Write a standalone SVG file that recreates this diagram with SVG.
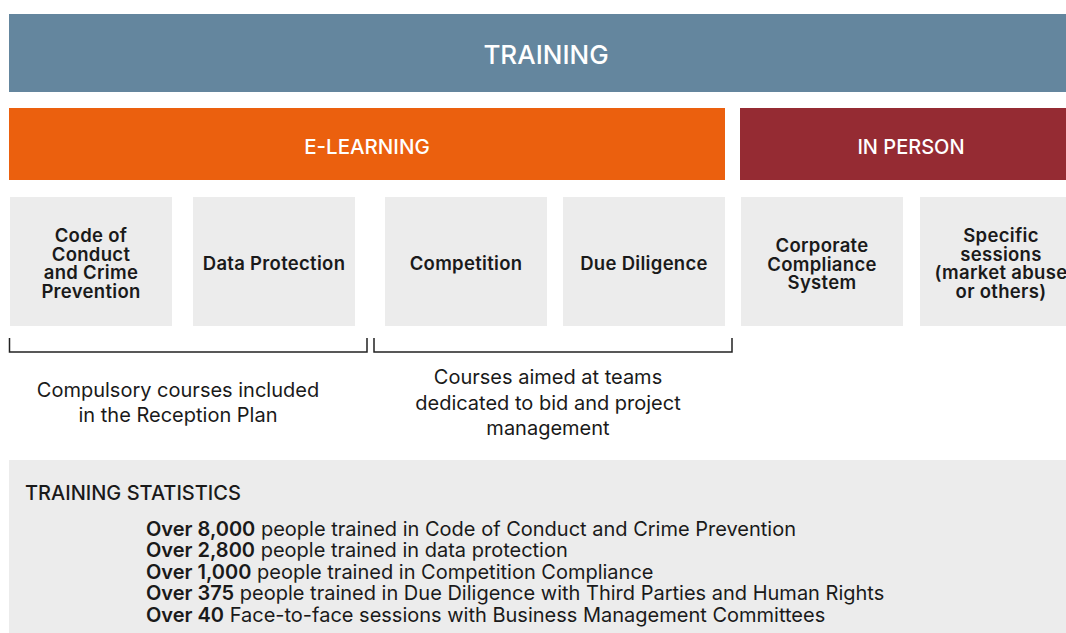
<svg xmlns="http://www.w3.org/2000/svg" width="1066" height="633" viewBox="0 0 1066 633">
<style>
.hdr{font-family:Inter,"Liberation Sans",sans-serif;fill:#fff;text-anchor:middle;font-weight:500}
.box{fill:#ececec}
.bt{font-family:Inter,"Liberation Sans",sans-serif;font-size:18.5px;letter-spacing:0.3px;font-weight:600;fill:#1a1a1a;text-anchor:middle}
.lbl{font-family:Inter,"Liberation Sans",sans-serif;font-size:20px;fill:#1a1a1a;text-anchor:middle}
.st{font-family:Inter,"Liberation Sans",sans-serif;font-size:20px;fill:#1a1a1a}
.st tspan.b{font-weight:600}
.br{fill:none;stroke:#222;stroke-width:1.5}
</style>
<rect width="1066" height="633" fill="#fff"/>
<g id="training">
<rect x="9" y="14" width="1057" height="78" fill="#64869e"/>
<text class="hdr" x="546" y="64" font-size="26">TRAINING</text>
</g>
<g id="elearning">
<rect x="9" y="108" width="716" height="72" fill="#eb600e"/>
<text class="hdr" x="367" y="154" font-size="20.5">E-LEARNING</text>
</g>
<g id="inperson">
<rect x="740" y="108" width="326" height="72" fill="#952b33"/>
<text class="hdr" x="911" y="154" font-size="20">IN PERSON</text>
</g>
<g id="code">
<rect class="box" x="10" y="197" width="162" height="129"/>
<text class="bt"><tspan x="91" y="242">Code of</tspan><tspan x="91" y="260.5">Conduct</tspan><tspan x="91" y="279">and Crime</tspan><tspan x="91" y="297.5">Prevention</tspan></text>
</g>
<g id="data">
<rect class="box" x="193" y="197" width="162" height="129"/>
<text class="bt" x="274" y="270">Data Protection</text>
</g>
<g id="competition">
<rect class="box" x="385" y="197" width="162" height="129"/>
<text class="bt" x="466" y="270">Competition</text>
</g>
<g id="duediligence">
<rect class="box" x="563" y="197" width="162" height="129"/>
<text class="bt" x="644" y="270">Due Diligence</text>
</g>
<g id="corporate">
<rect class="box" x="741" y="197" width="162" height="129"/>
<text class="bt"><tspan x="822" y="252">Corporate</tspan><tspan x="822" y="270.5">Compliance</tspan><tspan x="822" y="289">System</tspan></text>
</g>
<g id="specific">
<rect class="box" x="920" y="197" width="162" height="129"/>
<text class="bt"><tspan x="1001" y="242">Specific</tspan><tspan x="1001" y="260.5">sessions</tspan><tspan x="1001" y="279">(market abuse</tspan><tspan x="1001" y="297.5">or others)</tspan></text>
</g>
<g id="connectors">
<path class="br" d="M9.5 338 V352 H367 V338"/>
<path class="br" d="M374 338 V352 H732 V338"/>
</g>
<g id="compulsory">
<text class="lbl"><tspan x="178" y="397">Compulsory courses included</tspan><tspan x="178" y="422">in the Reception Plan</tspan></text>
</g>
<g id="aimed">
<text class="lbl"><tspan x="548" y="384">Courses aimed at teams</tspan><tspan x="548" y="410">dedicated to bid and project</tspan><tspan x="548" y="435">management</tspan></text>
</g>
<g id="stats">
<rect x="9" y="460" width="1057" height="173" fill="#ececec"/>
<text class="st" x="25" y="500" font-weight="500">TRAINING STATISTICS</text>
<text class="st" x="146" y="536"><tspan class="b">Over 8,000</tspan> people trained in Code of Conduct and Crime Prevention</text>
<text class="st" x="146" y="557"><tspan class="b">Over 2,800</tspan> people trained in data protection</text>
<text class="st" x="146" y="579"><tspan class="b">Over 1,000</tspan> people trained in Competition Compliance</text>
<text class="st" x="146" y="600"><tspan class="b">Over 375</tspan> people trained in Due Diligence with Third Parties and Human Rights</text>
<text class="st" x="146" y="622"><tspan class="b">Over 40</tspan> Face-to-face sessions with Business Management Committees</text>
</g>
</svg>
